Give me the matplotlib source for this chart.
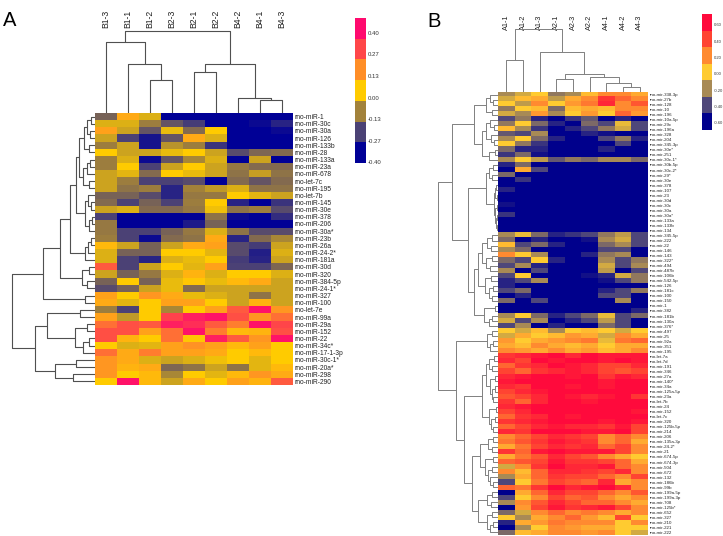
import numpy as np
import matplotlib
matplotlib.use('Agg')
import matplotlib.pyplot as plt
from matplotlib.colors import LinearSegmentedColormap, Normalize
from matplotlib.transforms import blended_transform_factory

plt.rcParams['font.family'] = ['Liberation Sans', 'DejaVu Sans']

W, H = 723, 536

# ---------------- panel A data ----------------
a_cols = ['B1-3', 'B1-1', 'B1-2', 'B2-3', 'B2-1', 'B2-2', 'B4-2', 'B4-1', 'B4-3']
a_rows = ['rno-miR-1', 'rno-miR-30c', 'rno-miR-30a', 'rno-miR-126', 'rno-miR-133b',
          'rno-miR-28', 'rno-miR-133a', 'rno-miR-23a', 'rno-miR-678', 'rno-let-7c',
          'rno-miR-195', 'rno-let-7b', 'rno-miR-145', 'rno-miR-30e', 'rno-miR-378',
          'rno-miR-206', 'rno-miR-30a*', 'rno-miR-23b', 'rno-miR-26a', 'rno-miR-24-2*',
          'rno-miR-181a', 'rno-miR-30d', 'rno-miR-320', 'rno-miR-384-5p', 'rno-miR-24-1*',
          'rno-miR-327', 'rno-miR-100', 'rno-let-7e', 'rno-miR-99a', 'rno-miR-29a',
          'rno-miR-152', 'rno-miR-22', 'rno-miR-34c*', 'rno-miR-17-1-3p', 'rno-miR-30c-1*',
          'rno-miR-20a*', 'rno-miR-298', 'rno-miR-290']
a_values = [
    [-0.20, 0.07, -0.05, -0.40, -0.40, -0.40, -0.40, -0.40, -0.40],
    [-0.05, -0.05, -0.14, -0.23, -0.28, -0.40, -0.40, -0.38, -0.33],
    [0.09, -0.07, -0.23, -0.03, -0.18, 0.00, -0.40, -0.40, -0.38],
    [-0.07, -0.27, -0.36, -0.23, 0.07, -0.05, -0.40, -0.40, -0.40],
    [-0.14, -0.07, -0.36, -0.10, -0.14, -0.30, -0.40, -0.40, -0.40],
    [0.00, -0.07, -0.07, -0.03, 0.00, -0.07, -0.25, -0.19, -0.18],
    [-0.14, -0.05, -0.38, -0.23, -0.12, -0.05, -0.40, -0.07, -0.40],
    [-0.14, 0.00, -0.27, -0.07, 0.00, -0.07, -0.15, -0.18, -0.18],
    [-0.07, -0.04, -0.18, 0.00, -0.03, -0.07, -0.16, -0.08, -0.16],
    [-0.07, -0.14, -0.27, -0.27, -0.25, -0.40, -0.18, -0.23, -0.18],
    [-0.07, -0.16, -0.14, -0.33, -0.13, -0.09, -0.05, -0.16, -0.16],
    [-0.20, -0.20, -0.25, -0.33, -0.15, -0.15, 0.00, -0.04, -0.07],
    [-0.18, -0.27, -0.20, -0.27, -0.14, 0.00, -0.33, -0.40, -0.30],
    [-0.07, -0.05, -0.18, -0.18, -0.15, -0.02, -0.16, -0.14, -0.25],
    [-0.27, -0.40, -0.40, -0.40, -0.40, -0.16, -0.38, -0.40, -0.31],
    [-0.15, -0.40, -0.40, -0.40, -0.35, -0.20, -0.40, -0.40, -0.40],
    [-0.15, -0.27, -0.27, -0.20, -0.15, -0.05, -0.16, -0.25, -0.25],
    [-0.14, -0.27, -0.38, -0.18, -0.16, 0.07, -0.33, -0.18, -0.12],
    [0.04, -0.07, -0.20, -0.07, 0.07, 0.09, -0.25, -0.28, -0.07],
    [-0.05, -0.20, -0.20, 0.00, 0.00, -0.04, -0.25, -0.34, -0.05],
    [-0.05, -0.27, -0.33, -0.05, -0.03, 0.00, -0.28, -0.33, -0.07],
    [0.23, -0.27, -0.07, 0.00, -0.04, 0.09, -0.27, -0.27, -0.19],
    [-0.07, -0.20, -0.15, -0.05, 0.05, -0.05, 0.00, 0.00, -0.05],
    [-0.20, 0.00, -0.20, -0.03, 0.01, -0.03, 0.04, 0.07, -0.07],
    [-0.25, -0.20, -0.07, -0.03, -0.18, -0.07, -0.07, -0.07, -0.07],
    [0.09, 0.00, 0.11, 0.07, -0.03, -0.05, -0.07, -0.16, -0.07],
    [0.07, -0.04, 0.00, 0.09, 0.09, 0.00, -0.07, 0.05, -0.07],
    [-0.14, -0.27, 0.00, -0.12, 0.00, 0.09, 0.23, 0.38, 0.11],
    [0.09, -0.09, 0.00, 0.28, 0.35, 0.38, 0.25, 0.11, 0.19],
    [0.19, 0.25, 0.23, 0.35, 0.32, 0.23, 0.16, 0.38, 0.27],
    [0.25, 0.25, 0.09, 0.19, 0.38, 0.16, 0.04, 0.05, 0.25],
    [0.25, 0.05, 0.00, 0.19, 0.01, 0.35, 0.23, 0.11, 0.38],
    [0.00, -0.05, -0.04, 0.09, 0.12, 0.09, 0.04, 0.09, 0.00],
    [0.19, 0.07, 0.16, 0.09, 0.09, 0.07, 0.00, 0.04, 0.00],
    [0.11, 0.07, -0.05, -0.07, -0.05, -0.02, 0.00, -0.04, 0.00],
    [0.11, 0.05, 0.07, -0.19, -0.16, -0.07, -0.16, -0.04, 0.04],
    [0.11, 0.00, 0.04, -0.12, 0.00, -0.04, 0.04, 0.11, 0.07],
    [0.00, 0.38, 0.04, -0.07, 0.07, 0.00, 0.09, 0.05, 0.23],
]
a_ticks = [0.40, 0.27, 0.13, 0.00, -0.13, -0.27, -0.40]
a_tick_labels = ['0.40', '0.27', '0.13', '0.00', '-0.13', '-0.27', '-0.40']
a_colors = ['#FF0A6E', '#FF4848', '#FF8C28', '#FFCC00', '#A0803C', '#4E4474', '#000096']

# column tree (leaf, leaf, merge height in px)
a_top_tree = ((0, (1, (2, 3, 33), 49), 71), ((4, 5, 41), (6, (7, 8, 13), 15), 49), 82)
# row tree
a_g1 = (((0, 1, 4), (2, 3, 5), 8), (4, 5, 6), 11)
a_g2 = (((6, 7, 5), 8, 8), (9, 10, 6), 12)
a_g3 = ((11, (12, 13, 4), 7), ((14, 15, 3), 16, 6), 10)
a_g4 = (((17, 18, 4), 19, 7), 20, 10)
a_g5 = ((21, 22, 6), (23, 24, 8), 13)
a_up = (((((a_g1, a_g2, 16), a_g3, 19), a_g4, 25), a_g5, 35), (25, 26, 10), 52)
a_low = (((27, 28, 15), ((29, 30, 8), ((31, 32, 6), 33, 12), 20), 48),
         ((34, 35, 19), (36, 37, 22), 40), 60)
a_left_tree = (a_up, a_low, 83)

# ---------------- panel B data ----------------
b_cols = ['A1-1', 'A1-2', 'A1-3', 'A2-1', 'A2-3', 'A2-2', 'A4-1', 'A4-2', 'A4-3']
b_rows = ['rno-mir-338-3p', 'rno-mir-27b', 'rno-mir-128', 'rno-mir-10', 'rno-mir-196',
          'rno-mir-10a-5p', 'rno-mir-29c', 'rno-mir-196a', 'rno-mir-328', 'rno-mir-204',
          'rno-mir-345-3p', 'rno-mir-30e*', 'rno-mir-251', 'rno-mir-30c-1*', 'rno-mir-30b-5p',
          'rno-mir-30c-2*', 'rno-mir-29*', 'rno-mir-30e', 'rno-mir-378', 'rno-mir-107',
          'rno-mir-23', 'rno-mir-30d', 'rno-mir-30c', 'rno-mir-30a', 'rno-mir-30a*',
          'rno-mir-133a', 'rno-mir-133b', 'rno-mir-134', 'rno-mir-345-5p', 'rno-mir-222',
          'rno-mir-22', 'rno-mir-146', 'rno-mir-143', 'rno-mir-322*', 'rno-mir-494',
          'rno-mir-487b', 'rno-mir-106b', 'rno-mir-542-5p', 'rno-mir-126', 'rno-mir-181c',
          'rno-mir-100', 'rno-mir-150', 'rno-mir-1', 'rno-mir-382', 'rno-mir-181b',
          'rno-mir-130a', 'rno-mir-376*', 'rno-mir-497', 'rno-mir-25', 'rno-mir-92a',
          'rno-mir-351', 'rno-mir-195', 'rno-let-7a', 'rno-let-7d', 'rno-mir-191',
          'rno-mir-346', 'rno-mir-27a', 'rno-mir-140*', 'rno-mir-34a', 'rno-mir-125a-5p',
          'rno-mir-23a', 'rno-let-7b', 'rno-mir-24', 'rno-mir-152', 'rno-let-7c',
          'rno-mir-320', 'rno-mir-125b-5p', 'rno-mir-214', 'rno-mir-206', 'rno-mir-135a-3p',
          'rno-mir-24-2*', 'rno-mir-21', 'rno-mir-674-5p', 'rno-mir-674-3p', 'rno-mir-504',
          'rno-mir-672', 'rno-mir-132', 'rno-mir-186b', 'rno-mir-99b', 'rno-mir-199a-5p',
          'rno-mir-199a-3p', 'rno-mir-708', 'rno-mir-125b*', 'rno-mir-652', 'rno-mir-327',
          'rno-mir-210', 'rno-mir-221', 'rno-mir-222']
b_values = [
    [-0.20, -0.10, 0.00, -0.25, -0.20, 0.05, 0.20, 0.20, 0.10],
    [-0.10, 0.05, 0.10, -0.15, 0.10, 0.20, 0.45, 0.30, 0.20],
    [0.00, -0.15, 0.20, 0.00, 0.15, 0.25, 0.50, 0.20, 0.35],
    [-0.25, 0.00, 0.05, -0.30, 0.05, 0.10, 0.05, 0.20, 0.20],
    [-0.10, -0.20, 0.15, -0.20, 0.00, 0.15, 0.00, 0.30, 0.15],
    [-0.40, -0.25, -0.50, -0.60, -0.45, -0.35, -0.60, -0.50, -0.60],
    [-0.25, 0.00, -0.30, -0.50, -0.60, -0.30, -0.40, -0.05, -0.40],
    [0.05, -0.20, -0.45, -0.60, -0.50, -0.40, -0.25, -0.10, -0.40],
    [-0.35, -0.40, -0.20, -0.60, -0.60, -0.50, -0.55, -0.60, -0.60],
    [-0.20, 0.00, -0.30, -0.50, -0.60, -0.60, -0.40, -0.25, -0.50],
    [0.00, -0.25, -0.45, -0.60, -0.60, -0.60, -0.60, -0.40, -0.60],
    [-0.30, -0.50, -0.50, -0.60, -0.60, -0.60, -0.50, -0.60, -0.60],
    [-0.45, -0.30, -0.55, -0.60, -0.60, -0.60, -0.60, -0.60, -0.60],
    [-0.20, 0.00, -0.15, -0.35, -0.25, -0.30, -0.20, -0.20, -0.30],
    [-0.50, -0.30, -0.60, -0.60, -0.60, -0.60, -0.60, -0.60, -0.60],
    [-0.60, 0.10, -0.40, -0.60, -0.60, -0.60, -0.60, -0.60, -0.60],
    [-0.30, -0.60, -0.60, -0.60, -0.60, -0.60, -0.60, -0.60, -0.60],
    [-0.60, -0.45, -0.60, -0.60, -0.60, -0.60, -0.60, -0.60, -0.60],
    [-0.60, -0.60, -0.60, -0.60, -0.60, -0.60, -0.60, -0.60, -0.60],
    [-0.50, -0.60, -0.60, -0.60, -0.60, -0.60, -0.60, -0.60, -0.60],
    [-0.60, -0.60, -0.60, -0.60, -0.60, -0.60, -0.60, -0.60, -0.60],
    [-0.60, -0.60, -0.60, -0.60, -0.60, -0.60, -0.60, -0.60, -0.60],
    [-0.55, -0.60, -0.60, -0.60, -0.60, -0.60, -0.60, -0.60, -0.60],
    [-0.60, -0.60, -0.60, -0.60, -0.60, -0.60, -0.60, -0.60, -0.60],
    [-0.45, -0.60, -0.60, -0.60, -0.60, -0.60, -0.60, -0.60, -0.60],
    [-0.60, -0.60, -0.60, -0.60, -0.60, -0.60, -0.60, -0.60, -0.60],
    [-0.60, -0.60, -0.60, -0.60, -0.60, -0.60, -0.60, -0.60, -0.60],
    [-0.60, -0.60, -0.60, -0.60, -0.60, -0.60, -0.60, -0.60, -0.60],
    [-0.20, -0.05, -0.30, -0.50, -0.45, -0.40, -0.25, -0.15, -0.40],
    [-0.30, -0.60, -0.50, -0.60, -0.60, -0.55, -0.20, -0.10, -0.40],
    [0.05, -0.40, -0.30, -0.50, -0.60, -0.60, -0.30, -0.20, -0.40],
    [-0.20, -0.30, -0.60, -0.60, -0.60, -0.60, -0.40, -0.40, -0.60],
    [0.20, 0.00, -0.20, -0.60, -0.60, -0.50, -0.25, -0.20, -0.60],
    [-0.30, -0.40, 0.00, -0.50, -0.60, -0.60, -0.20, -0.40, -0.25],
    [-0.40, -0.20, -0.50, -0.60, -0.60, -0.60, -0.10, -0.40, -0.20],
    [-0.20, -0.60, -0.40, -0.60, -0.60, -0.60, -0.15, -0.60, -0.40],
    [-0.40, 0.00, -0.60, -0.60, -0.60, -0.55, -0.50, -0.10, -0.25],
    [-0.50, -0.40, -0.20, -0.60, -0.60, -0.60, -0.55, -0.40, -0.25],
    [-0.50, -0.60, -0.60, -0.60, -0.60, -0.60, -0.60, -0.60, -0.60],
    [-0.40, -0.30, -0.60, -0.60, -0.60, -0.60, -0.50, -0.40, -0.25],
    [-0.60, -0.50, -0.60, -0.60, -0.60, -0.60, -0.40, -0.40, -0.60],
    [-0.30, -0.60, -0.40, -0.60, -0.60, -0.60, -0.60, -0.20, -0.60],
    [-0.60, -0.60, -0.60, -0.60, -0.60, -0.60, -0.60, -0.60, -0.60],
    [-0.60, -0.60, -0.60, -0.60, -0.60, -0.60, -0.60, -0.60, -0.50],
    [-0.20, 0.00, -0.30, -0.50, -0.40, -0.30, -0.05, -0.40, -0.30],
    [-0.10, -0.40, -0.20, -0.60, -0.50, -0.40, -0.15, -0.40, -0.60],
    [-0.40, -0.20, -0.60, -0.50, -0.60, -0.60, -0.30, -0.40, -0.60],
    [0.00, -0.10, 0.05, -0.20, 0.00, 0.05, 0.00, -0.10, 0.00],
    [-0.10, 0.10, 0.00, 0.05, 0.15, 0.10, -0.10, 0.20, 0.10],
    [0.15, 0.00, 0.10, 0.15, 0.20, 0.25, -0.05, 0.25, 0.30],
    [0.10, 0.05, 0.20, 0.10, 0.05, 0.10, 0.00, 0.10, 0.10],
    [0.20, 0.15, 0.10, 0.20, 0.10, 0.15, 0.05, 0.10, 0.20],
    [0.45, 0.50, 0.55, 0.60, 0.50, 0.60, 0.55, 0.55, 0.55],
    [0.50, 0.40, 0.60, 0.55, 0.60, 0.60, 0.55, 0.60, 0.55],
    [0.30, 0.45, 0.50, 0.60, 0.55, 0.50, 0.40, 0.40, 0.50],
    [0.40, 0.30, 0.45, 0.50, 0.55, 0.50, 0.40, 0.35, 0.40],
    [0.50, 0.55, 0.60, 0.60, 0.55, 0.60, 0.45, 0.55, 0.50],
    [0.55, 0.60, 0.60, 0.60, 0.60, 0.60, 0.55, 0.60, 0.60],
    [0.50, 0.45, 0.60, 0.60, 0.55, 0.60, 0.55, 0.60, 0.60],
    [0.40, 0.50, 0.55, 0.60, 0.60, 0.60, 0.60, 0.60, 0.60],
    [0.35, 0.40, 0.50, 0.60, 0.55, 0.50, 0.55, 0.60, 0.45],
    [0.45, 0.30, 0.50, 0.60, 0.60, 0.55, 0.60, 0.60, 0.60],
    [0.50, 0.55, 0.60, 0.60, 0.60, 0.60, 0.60, 0.60, 0.60],
    [0.40, 0.50, 0.60, 0.60, 0.60, 0.60, 0.60, 0.60, 0.55],
    [0.30, 0.45, 0.50, 0.60, 0.55, 0.60, 0.60, 0.60, 0.60],
    [0.45, 0.50, 0.55, 0.60, 0.60, 0.60, 0.55, 0.60, 0.55],
    [0.30, 0.40, 0.50, 0.55, 0.50, 0.50, 0.45, 0.55, 0.40],
    [0.50, 0.45, 0.60, 0.60, 0.60, 0.55, 0.55, 0.60, 0.40],
    [0.20, 0.30, 0.40, 0.50, 0.45, 0.40, 0.20, 0.30, 0.20],
    [0.25, 0.35, 0.45, 0.55, 0.50, 0.45, 0.20, 0.30, 0.10],
    [0.10, 0.25, 0.40, 0.50, 0.45, 0.50, 0.30, 0.40, 0.20],
    [0.45, 0.30, 0.55, 0.60, 0.55, 0.55, 0.55, 0.40, 0.20],
    [0.10, 0.25, 0.35, 0.50, 0.40, 0.35, 0.20, 0.10, 0.00],
    [0.30, 0.35, 0.40, 0.55, 0.45, 0.45, 0.40, 0.30, 0.10],
    [-0.10, 0.20, 0.45, 0.60, 0.50, 0.50, 0.55, 0.30, 0.20],
    [0.20, 0.05, 0.30, 0.50, 0.50, 0.45, 0.40, 0.50, 0.20],
    [-0.20, 0.10, 0.30, 0.45, 0.40, 0.40, 0.30, 0.20, 0.40],
    [-0.40, 0.00, 0.25, 0.40, 0.35, 0.30, 0.50, 0.10, 0.20],
    [0.30, 0.25, 0.45, 0.60, 0.50, 0.55, 0.60, 0.50, 0.20],
    [-0.60, 0.10, 0.30, 0.50, 0.40, 0.40, 0.30, 0.20, 0.35],
    [-0.40, 0.00, 0.20, 0.40, 0.30, 0.35, 0.20, 0.10, 0.20],
    [-0.20, 0.20, 0.35, 0.50, 0.40, 0.30, 0.30, 0.20, 0.10],
    [-0.60, 0.15, 0.40, 0.55, 0.45, 0.50, 0.55, 0.40, 0.20],
    [-0.30, -0.10, 0.20, 0.30, 0.20, 0.25, 0.20, 0.10, 0.20],
    [0.00, -0.20, 0.10, 0.20, 0.30, 0.15, 0.05, 0.40, 0.00],
    [-0.50, 0.10, 0.15, 0.25, 0.20, 0.20, 0.20, 0.00, 0.20],
    [-0.60, -0.20, 0.00, 0.20, 0.15, 0.10, 0.10, 0.00, 0.00],
    [-0.30, 0.05, 0.10, 0.20, 0.20, 0.15, 0.20, 0.00, -0.10],
]
b_ticks = [0.60, 0.40, 0.20, 0.00, -0.20, -0.40, -0.60]
b_tick_labels = ['0.60', '0.40', '0.20', '0.00', '-0.20', '-0.40', '-0.60']
b_colors = ['#FF0A3C', '#FF4532', '#FF8A30', '#FFCC30', '#A88A55', '#50487A', '#00008C']

b_top_tree = ((0, 1, 32), (2, ((3, 4, 13), (5, (6, (7, 8, 5), 9), 15), 18), 40), 63)
b_ua = ((0, (1, 2, 5), 8), (3, 4, 6), 12)
b_ub = (((5, (6, 7, 4), 8), (8, (9, 10, 4), 7), 12), ((11, 12, 3), 13, 9), 16)
b_uc = (((14, 15, 5), (16, 17, 6), 9),
        (((18, 19, 2), (20, 21, 1), 3), ((22, 23, 1), ((24, 25, 1), (26, 27, 1), 2), 3), 4), 12)
b_ud = (((((28, 29, 6), (30, 31, 7), 11), ((32, 33, 6), (34, 35, 8), 12), 16),
         ((36, 37, 7), ((38, 39, 5), (40, 41, 6), 9), 13), 20),
        ((42, 43, 3), ((44, 45, 6), 46, 9), 14), 24)
b_up = ((b_ua, b_ub, 24), (b_uc, b_ud, 30), 46)
b_ue = ((47, 48, 6), ((49, 50, 5), 51, 8), 11)
b_l1 = ((((52, 53, 4), (54, 55, 6), 9), ((56, 57, 3), ((58, 59, 3), (60, 61, 5), 6), 8), 12),
        ((62, 63, 2), ((64, 65, 3), (66, 67, 5), 7), 9), 16)
b_l2 = (((68, 69, 5), (70, 71, 6), 10), ((72, 73, 5), ((74, 75, 6), (76, (77, 78, 5), 8), 10), 13), 18)
b_l3 = (((79, 80, 6), (81, 82, 7), 11), ((83, 84, 6), ((85, 86, 5), 87, 8), 11), 20)
b_low = (b_ue, (b_l1, (b_l2, b_l3, 26), 34), 42)
b_left_tree = (b_up, b_low, 60)


fig = plt.figure(figsize=(W / 100, H / 100), dpi=100)


def box(x0, y0, x1, y1):
    return fig.add_axes([x0 / W, 1 - y1 / H, (x1 - x0) / W, (y1 - y0) / H])


def draw_tree(ax, node, side, color, lw):
    if isinstance(node, int):
        return float(node), 0.0
    left, right, h = node
    p1, h1 = draw_tree(ax, left, side, color, lw)
    p2, h2 = draw_tree(ax, right, side, color, lw)
    xs = [p1, p1, p2, p2]
    ys = [h1, h, h, h2]
    if side == 'top':
        ax.plot(xs, ys, color=color, lw=lw, solid_capstyle='butt')
    else:
        ax.plot(ys, xs, color=color, lw=lw, solid_capstyle='butt')
    return (p1 + p2) / 2, h


def panel(values, rows, cols, colors, ticks, tick_labels, top_tree, left_tree,
          heat, top, left, cbar, lab_y, rowfs, colfs, cbfs, tickpos, lcolor, lw):
    x0, y0, x1, y1 = heat
    cmap = LinearSegmentedColormap.from_list('c', colors[::-1])
    norm = Normalize(min(ticks), max(ticks))
    vals = np.array(values)

    ax = box(x0, y0, x1, y1)
    ax.imshow(vals, cmap=cmap, norm=norm, aspect='auto', interpolation='nearest')
    ax.set_xticks([])
    ax.yaxis.tick_right()
    ax.set_yticks(range(len(rows)))
    ax.set_yticklabels(rows, fontsize=rowfs, color='#222222')
    ax.tick_params(axis='y', length=0, pad=1)
    for s in ax.spines.values():
        s.set_visible(False)

    tr = blended_transform_factory(ax.transData, fig.transFigure)
    for i, c in enumerate(cols):
        ax.text(i, 1 - lab_y / H, c, rotation=90, ha='center', va='bottom',
                fontsize=colfs, transform=tr, color='#222222')

    # column dendrogram
    axt = box(x0, top, x1, y0)
    draw_tree(axt, top_tree, 'top', lcolor, lw)
    axt.set_xlim(-0.5, len(cols) - 0.5)
    axt.set_ylim(0, y0 - top)
    axt.axis('off')

    # row dendrogram
    axl = box(left, y0, x0, y1)
    draw_tree(axl, left_tree, 'left', lcolor, lw)
    axl.set_ylim(len(rows) - 0.5, -0.5)
    axl.set_xlim(x0 - left, 0)
    axl.axis('off')

    # colour key
    cx0, cy0, cx1, cy1 = cbar
    axc = box(cx0, cy0, cx1, cy1)
    axc.pcolormesh(np.array(ticks).reshape(-1, 1), cmap=cmap, norm=norm)
    axc.set_ylim(len(ticks), 0)
    axc.set_xticks([])
    axc.yaxis.tick_right()
    axc.set_yticks(tickpos)
    axc.set_yticklabels(tick_labels, fontsize=cbfs, color='#333333')
    axc.tick_params(axis='y', length=0, pad=1.5)
    for s in axc.spines.values():
        s.set_visible(False)


panel(a_values, a_rows, a_cols, a_colors, a_ticks, a_tick_labels, a_top_tree, a_left_tree,
      heat=(95, 113, 293, 385), top=30, left=10, cbar=(355, 18, 366, 163), lab_y=28,
      rowfs=4.8, colfs=6.2, cbfs=4.3, tickpos=np.linspace(0.72, 6.96, 7),
      lcolor='#505050', lw=0.8)

panel(b_values, b_rows, b_cols, b_colors, b_ticks, b_tick_labels, b_top_tree, b_left_tree,
      heat=(498, 92, 648, 535), top=29, left=437, cbar=(702, 14, 712, 130), lab_y=30,
      rowfs=3.2, colfs=5.2, cbfs=3.0, tickpos=np.linspace(0.66, 6.57, 7),
      lcolor='#808080', lw=0.7)

fig.text(3 / W, 1 - 26 / H, 'A', fontsize=14.5, va='baseline', ha='left')
fig.text(427 / W, 1 - 27 / H, 'B', fontsize=14.5, va='baseline', ha='left')

fig.savefig('out.png', dpi=100, facecolor='white')
